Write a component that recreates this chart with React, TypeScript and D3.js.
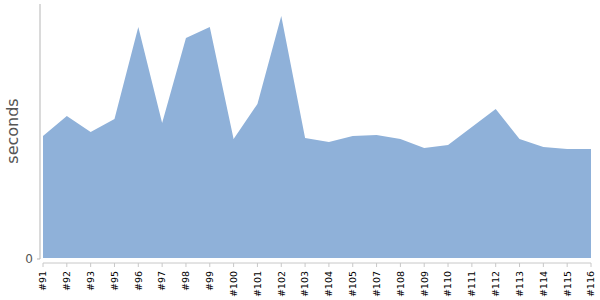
import React, { useEffect, useRef } from "react";
import * as d3 from "d3";

const builds = ["#91","#92","#93","#95","#96","#97","#98","#99","#100","#101","#102","#103","#104","#105","#107","#108","#109","#110","#111","#112","#113","#114","#115","#116"];
const seconds = [122,142,126,139,231,135,220,231,119,154,242,120,116,122,123,119,110,113,131,149,119,111,109,109];
const yTicks = [0];

export default function App() {
  const ref = useRef<SVGSVGElement>(null);
  useEffect(() => {
    const svg = d3.select(ref.current);
    svg.selectAll("*").remove();
    const x = d3.scalePoint<string>().domain(builds).range([43, 591]);
    const y = d3.scaleLinear().domain([0, 254]).range([258, 4]);
    const data = builds.map((b, i) => ({ b, v: seconds[i] }));
    const area = d3.area<{ b: string; v: number }>()
      .x(d => x(d.b)!)
      .y0(y(0))
      .y1(d => y(d.v));
    svg.append("path").datum(data).attr("d", area).attr("fill", "#8fb1d9");

    // y axis
    svg.append("line").attr("x1", 40).attr("x2", 40).attr("y1", 4).attr("y2", y(0) + 1).attr("stroke", "#b5b5b5");
    yTicks.forEach(t => {
      svg.append("line").attr("x1", 37).attr("x2", 40).attr("y1", y(t) + 1).attr("y2", y(t) + 1).attr("stroke", "#b5b5b5");
      svg.append("text").attr("x", 33).attr("y", y(t) + 1).attr("dy", "0.35em").attr("text-anchor", "end")
        .attr("font-family", "DejaVu Sans").attr("font-size", 12).attr("fill", "#555").text(String(t));
    });
    svg.append("text").attr("transform", "translate(18,131) rotate(-90)").attr("text-anchor", "middle")
      .attr("font-family", "DejaVu Sans").attr("font-size", 16).attr("fill", "#555").text("seconds");

    // x axis
    svg.append("line").attr("x1", 43).attr("x2", 591).attr("y1", 263).attr("y2", 263).attr("stroke", "#c8c8c8");
    builds.forEach(b => {
      const xx = x(b)!;
      svg.append("line").attr("x1", xx).attr("x2", xx).attr("y1", 263).attr("y2", 267).attr("stroke", "#c8c8c8");
      svg.append("text").attr("transform", `translate(${xx},271) rotate(-90)`).attr("text-anchor", "end")
        .attr("dy", "0.35em").attr("font-family", "DejaVu Sans").attr("font-size", 9.5).attr("fill", "#000").text(b);
    });
  }, []);
  return (
    <svg ref={ref} width={600} height={300} style={{ position: "absolute", left: 0, top: 0 }} />
  );
}
